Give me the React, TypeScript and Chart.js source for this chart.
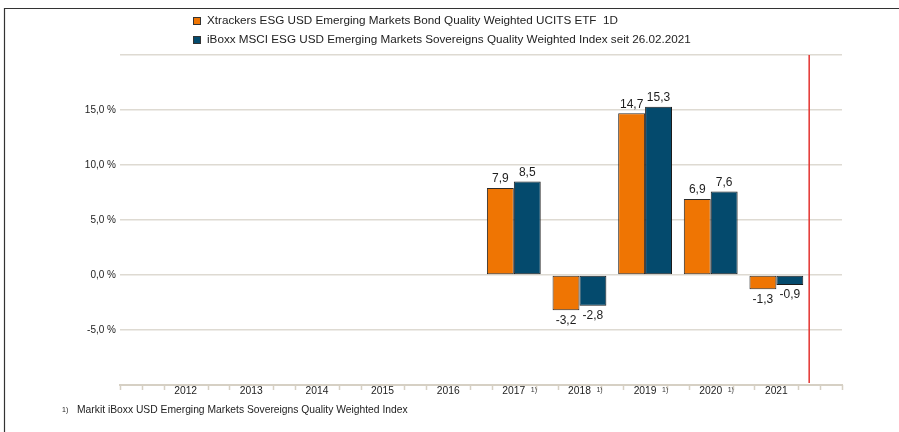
import React, { useEffect, useRef } from 'react';
import { Chart, registerables } from 'chart.js';

Chart.register(...registerables);

const years = [2012, 2013, 2014, 2015, 2016, 2017, 2018, 2019, 2020, 2021];
const etfValues: (number | null)[] = [null, null, null, null, null, 7.9, -3.2, 14.7, 6.9, -1.3];
const indexValues: (number | null)[] = [null, null, null, null, null, 8.5, -2.8, 15.3, 7.6, -0.9];
const footnoteYears = [2017, 2018, 2019, 2020];
const yLabelMin = -5;
const yLabelMax = 15;
const xMin = 2011;
const xMax = 2022;
const markerYear = 2021.5;
const seriesNames = [
  'Xtrackers ESG USD Emerging Markets Bond Quality Weighted UCITS ETF  1D',
  'iBoxx MSCI ESG USD Emerging Markets Sovereigns Quality Weighted Index seit 26.02.2021',
];
const footnoteMark = '1)';
const footnoteText = 'Markit iBoxx USD Emerging Markets Sovereigns Quality Weighted Index';

const ORANGE = '#ef7503';
const BLUE = '#044a6d';
const FONT = "'Liberation Sans', Arial, Helvetica, sans-serif";

const fmt = (v: number) => v.toFixed(1).replace('.', ',');

const toPoints = (vals: (number | null)[]) =>
  years
    .map((yr, i) => ({ x: yr, y: vals[i] }))
    .filter((d) => d.y !== null) as { x: number; y: number }[];

const decoPlugin = {
  id: 'deco',
  afterDatasetsDraw(chart: any) {
    const ctx = chart.ctx as CanvasRenderingContext2D;
    ctx.save();
    ctx.font = `12px ${FONT}`;
    ctx.fillStyle = '#1e1e1e';
    ctx.textAlign = 'center';
    chart.data.datasets.forEach((ds: any, di: number) => {
      const meta = chart.getDatasetMeta(di);
      meta.data.forEach((bar: any, i: number) => {
        const v = ds.data[i].y as number;
        if (v >= 0) {
          ctx.textBaseline = 'bottom';
          ctx.fillText(fmt(v), bar.x, bar.y - 3);
        } else {
          ctx.textBaseline = 'top';
          ctx.fillText(fmt(v), bar.x, bar.y + 4);
        }
      });
    });
    ctx.restore();
  },
  afterDraw(chart: any) {
    const ctx = chart.ctx as CanvasRenderingContext2D;
    const xs = chart.scales.x;
    const area = chart.chartArea;
    ctx.save();

    // frame
    ctx.strokeStyle = '#333';
    ctx.lineWidth = 1.2;
    ctx.beginPath();
    ctx.moveTo(4, 8.5);
    ctx.lineTo(899, 8.5);
    ctx.moveTo(4.5, 8);
    ctx.lineTo(4.5, 432);
    ctx.stroke();

    // legend
    const colors = [ORANGE, BLUE];
    const rowsY = [21, 40];
    ctx.font = `11.7px ${FONT}`;
    ctx.textBaseline = 'middle';
    ctx.textAlign = 'left';
    seriesNames.forEach((name, i) => {
      ctx.fillStyle = colors[i];
      ctx.fillRect(193, rowsY[i] - 4, 8, 8);
      ctx.strokeStyle = '#333';
      ctx.lineWidth = 1;
      ctx.strokeRect(193.5, rowsY[i] - 3.5, 7, 7);
      ctx.fillStyle = '#222';
      ctx.fillText(name, 207, rowsY[i]);
    });

    // minor ticks on x axis
    ctx.strokeStyle = '#d6d0c4';
    ctx.lineWidth = 1.5;
    ctx.beginPath();
    for (let k = 0; k <= (xMax - xMin) * 3; k++) {
      const v = xMin + k / 3;
      if (k % 3 === 0 && k !== 0 && k !== (xMax - xMin) * 3) continue;
      const px = Math.round(xs.getPixelForValue(v)) + 0.5;
      ctx.moveTo(px, area.bottom);
      ctx.lineTo(px, area.bottom + 5);
    }
    ctx.stroke();

    // footnote marks on year labels
    ctx.fillStyle = '#333';
    ctx.font = `7px ${FONT}`;
    ctx.textAlign = 'left';
    ctx.textBaseline = 'middle';
    footnoteYears.forEach((yr) => {
      ctx.fillText(footnoteMark, xs.getPixelForValue(yr) + 17, area.bottom + 5);
    });

    // red marker line
    const rx = xs.getPixelForValue(markerYear);
    ctx.strokeStyle = '#e3322f';
    ctx.lineWidth = 1.5;
    ctx.beginPath();
    ctx.moveTo(rx, area.top);
    ctx.lineTo(rx, area.bottom - 2);
    ctx.stroke();

    // footnote text
    ctx.fillStyle = '#222';
    ctx.font = `7px ${FONT}`;
    ctx.fillText(footnoteMark, 62, 410);
    ctx.font = `10.3px ${FONT}`;
    ctx.fillText(footnoteText, 77, 410);

    ctx.restore();
  },
};

export default function App() {
  const ref = useRef<HTMLCanvasElement | null>(null);

  useEffect(() => {
    if (!ref.current) return;
    Chart.defaults.font.family = FONT;
    const chart = new Chart(ref.current, {
      type: 'bar',
      data: {
        datasets: [
          {
            label: seriesNames[0],
            data: toPoints(etfValues) as any,
            backgroundColor: ORANGE,
            borderColor: '#2b2b2b',
            borderWidth: 1,
            borderSkipped: false,
            categoryPercentage: 0.82,
            barPercentage: 1,
          },
          {
            label: seriesNames[1],
            data: toPoints(indexValues) as any,
            backgroundColor: BLUE,
            borderColor: '#1b1b1b',
            borderWidth: 1,
            borderSkipped: false,
            categoryPercentage: 0.82,
            barPercentage: 1,
          },
        ],
      },
      options: {
        responsive: false,
        animation: false,
        layout: { padding: { top: 55, right: 57, left: 0, bottom: 0 } },
        plugins: { legend: { display: false }, tooltip: { enabled: false } },
        scales: {
          x: {
            type: 'linear',
            min: xMin,
            max: xMax,
            offset: false,
            afterBuildTicks: (s: any) => {
              const t = [];
              for (let v = xMin; v <= xMax; v++) t.push({ value: v });
              s.ticks = t;
            },
            afterFit: (s: any) => {
              s.height = 47;
            },
            ticks: {
              autoSkip: false,
              maxRotation: 0,
              padding: 0,
              color: '#222',
              font: { size: 10.3, family: FONT },
              callback: (v: any) => (years.includes(Number(v)) ? String(v) : ''),
            },
            grid: { display: false, drawTicks: false },
            border: { display: true, color: '#d6d0c4', width: 2 },
          },
          y: {
            min: -10,
            max: 20,
            afterFit: (s: any) => {
              s.width = 120;
            },
            ticks: {
              stepSize: 5,
              padding: 4,
              color: '#222',
              font: { size: 10, family: FONT },
              callback: (v: any) => {
                const n = Number(v);
                return n >= yLabelMin && n <= yLabelMax ? `${fmt(n)} %` : '';
              },
            },
            grid: { color: '#dedad2', lineWidth: 1.5, drawTicks: false },
            border: { display: false },
          },
        },
      } as any,
      plugins: [decoPlugin],
    });
    return () => chart.destroy();
  }, []);

  return (
    <div style={{ position: 'absolute', left: 0, top: 0, width: 899, height: 432, background: '#fff' }}>
      <canvas ref={ref} width={899} height={432} style={{ display: 'block', width: 899, height: 432 }} />
    </div>
  );
}
